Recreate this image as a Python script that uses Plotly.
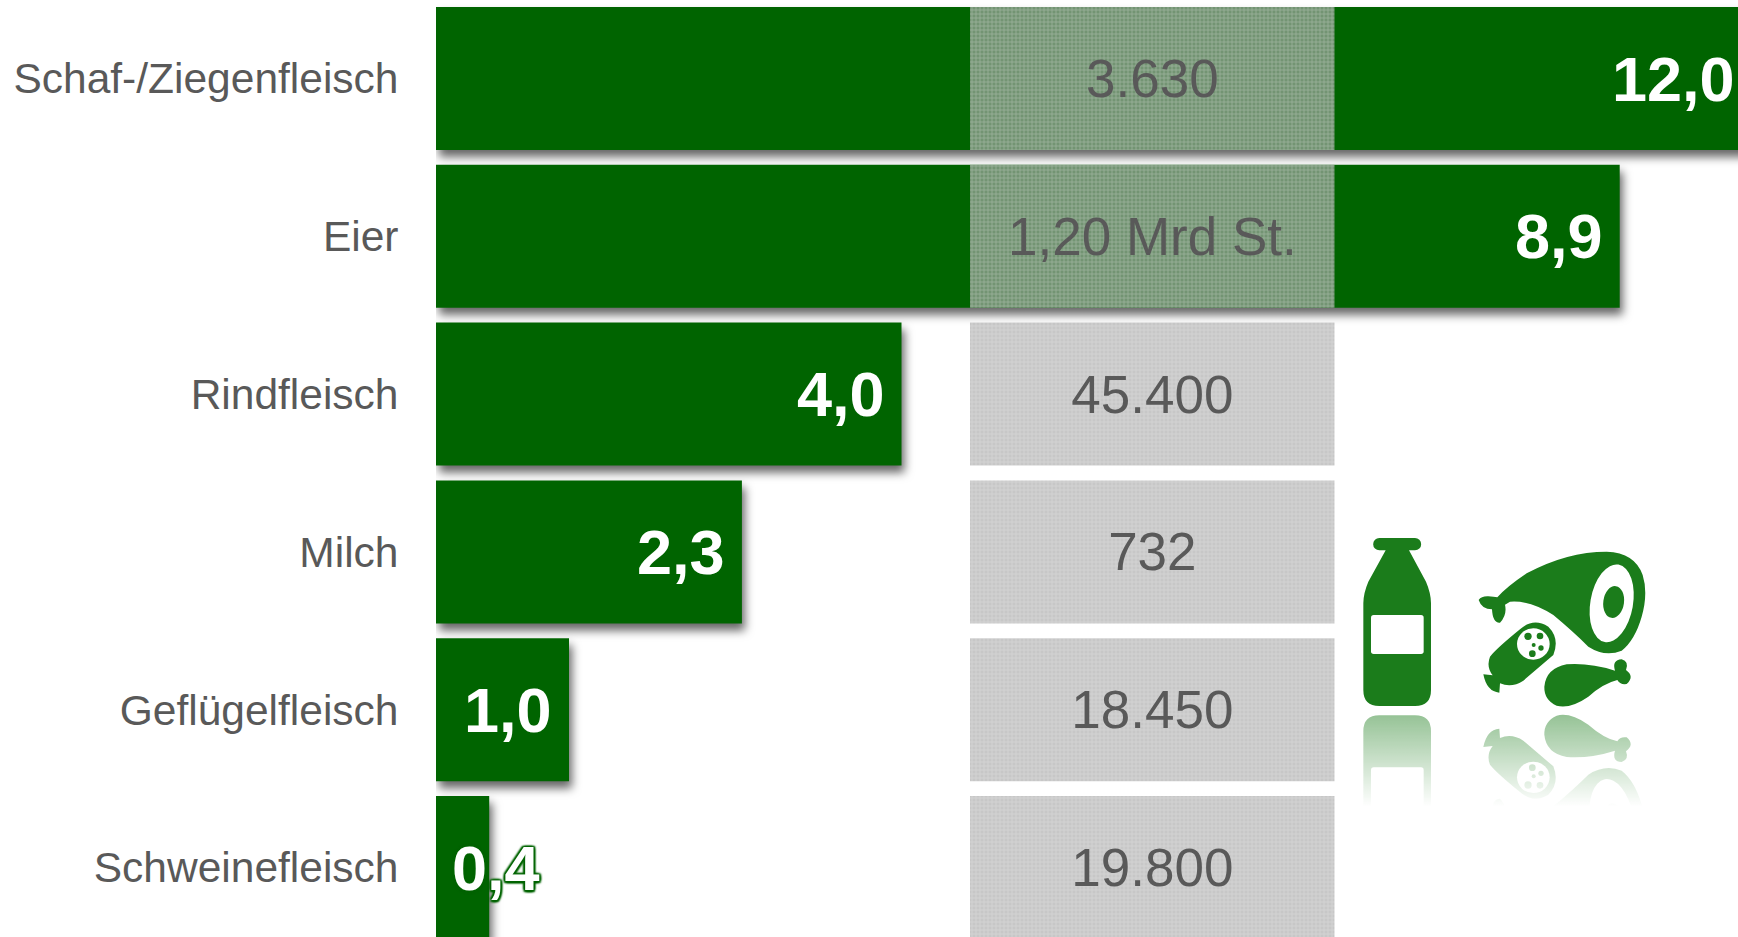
import base64
import plotly.graph_objects as go

categories = ["Schaf-/Ziegenfleisch", "Eier", "Rindfleisch", "Milch", "Geflügelfleisch", "Schweinefleisch"]
bar_lengths = [12.0, 8.9, 3.5, 2.3, 1.0, 0.4]
bar_labels = ["12,0", "8,9", "4,0", "2,3", "1,0", "0,4"]
label_shifts = [-1, -15, -15, -15, -15, 53]
quantities = ["3.630", "1,20 Mrd St.", "45.400", "732", "18.450", "19.800"]
box_widths = [1, 1, 1, 1, 1, 1]

W, H = 1738, 937
FONT = "Liberation Sans, Arial, sans-serif"
GREEN = "#006400"
TEXT = "#595959"
X_MAX = (W - 436) / 133
STEP = 157.8
FIRST = 78.5

icon_art = """
<path d="M118 54H225a18.500 18.500 0 0 1 0 37H207L258 185Q273 220 273 250V510Q273 558 225 558H118Q70 558 70 510V250Q70 220 85 185L137 91H118a18.500 18.500 0 0 1 0-37Z"/>
<rect x="93" y="285" width="158" height="117" rx="8" fill="#fff"/>
<path d="M416 240Q424 228 445 229Q462 231 472 232Q500 200 560 160Q680 95 800 95Q885 98 908 165Q925 220 905 290Q885 360 845 392Q795 412 745 380Q700 335 640 285Q570 240 510 245L495 254Q502 285 480 308Q458 310 456 268Q425 268 416 240Z"/>
<ellipse cx="815" cy="250" rx="64" ry="118" transform="rotate(10 815 250)" fill="#fff"/>
<ellipse cx="821" cy="246" rx="31" ry="48" transform="rotate(8 821 246)"/>
<path d="M450 410Q470 385 540 328Q580 292 625 320Q660 355 640 405L550 482Q515 505 480 490L478 518Q440 515 430 463L458 466Q438 440 450 410Z"/>
<ellipse cx="580" cy="372" rx="49" ry="47" fill="#fff"/>
<circle cx="564" cy="349" r="11"/><circle cx="600" cy="348" r="10"/><circle cx="581" cy="375" r="6"/><circle cx="603" cy="384" r="8"/><circle cx="577" cy="401" r="10"/>
<path d="M613 500Q618 445 680 433Q750 428 825 452Q815 420 845 418Q868 425 858 450Q885 470 860 492Q840 495 832 480Q790 490 745 530Q690 568 650 557Q612 540 613 500Z"/>
"""
svg = f"""<svg xmlns="http://www.w3.org/2000/svg" width="990" height="870" viewBox="0 0 990 870">
<defs><linearGradient id="g" gradientUnits="userSpaceOnUse" x1="0" y1="586" x2="0" y2="860">
<stop offset="0" stop-color="#fff" stop-opacity=".46"/><stop offset="1" stop-color="#fff" stop-opacity="0"/></linearGradient>
<mask id="m" maskUnits="userSpaceOnUse" x="0" y="572" width="990" height="298"><rect x="0" y="572" width="990" height="298" fill="url(#g)"/></mask></defs>
<g fill="#1b7c1b">{icon_art}</g>
<g mask="url(#m)"><g fill="#1b7c1b" transform="matrix(1 0 0 -1 0 1144)">{icon_art}</g></g>
</svg>"""
icon_uri = "data:image/svg+xml;base64," + base64.b64encode(svg.encode()).decode()

fig = go.Figure()
fig.add_bar(
    y=categories, x=bar_lengths, orientation="h", xaxis="x", yaxis="y",
    marker=dict(color=GREEN, line=dict(width=0)), hoverinfo="skip",
)
fig.add_bar(
    y=categories, x=box_widths, orientation="h", xaxis="x2", yaxis="y",
    text=quantities, textposition="inside", insidetextanchor="middle", constraintext="none",
    textangle=0, textfont=dict(family=FONT, size=53, color=TEXT),
    marker=dict(
        color="rgba(172,172,172,0.67)", line=dict(width=0),
        pattern=dict(shape="+", size=4, solidity=0.32, fgcolor="rgba(240,240,240,0.7)", bgcolor="rgba(172,172,172,0.67)"),
    ),
    hoverinfo="skip",
)

GLOW = ", ".join(f"{dx}px {dy}px 2px #006400" for dx, dy in [(1.5, 0), (-1.5, 0), (0, 1.5), (0, -1.5), (1.5, 1.5), (-1.5, 1.5), (1.5, -1.5), (-1.5, -1.5)])
annotations = [
    dict(
        x=min(v, X_MAX), y=c, xref="x", yref="y", text=f"<b>{t}</b>", showarrow=False,
        xanchor="right", xshift=s, yshift=0,
        font=dict(family=FONT, size=63, color="white", shadow=GLOW if v < 0.5 else "none"),
    )
    for c, v, t, s in zip(categories, bar_lengths, bar_labels, label_shifts)
]

fig.update_layout(
    width=W, height=H, margin=dict(l=0, r=0, t=0, b=0),
    paper_bgcolor="white", plot_bgcolor="rgba(0,0,0,0)", showlegend=False,
    barmode="overlay", bargap=(STEP - 143) / STEP,
    xaxis=dict(domain=[436 / W, 1], range=[0, X_MAX], visible=False, anchor="y"),
    xaxis2=dict(domain=[970 / W, 1334.7 / W], range=[0, 1], visible=False, anchor="y"),
    yaxis=dict(
        type="category", categoryorder="array", categoryarray=categories,
        range=[(H - FIRST) / STEP, -FIRST / STEP], domain=[0, 1], anchor="x",
        showgrid=False, zeroline=False, showline=False,
        ticks="outside", ticklen=28, tickcolor="rgba(0,0,0,0)",
        tickfont=dict(family=FONT, size=42.5, color=TEXT),
    ),
    annotations=annotations,
    images=[dict(
        source=icon_uri, xref="paper", yref="paper", x=1340 / W, y=1 - 520 / H,
        sizex=330 / W, sizey=290 / H, xanchor="left", yanchor="top", sizing="stretch", layer="above",
    )],
)

page_js = """
document.documentElement.style.overflow = 'hidden';
document.body.style.margin = '0';
document.querySelectorAll('.subplot.xy .bars .point path').forEach(function(p){
  p.style.filter = 'drop-shadow(3px 7px 5px rgba(0,0,0,0.6))';
});
"""
fig.write_html("out.html", post_script=page_js, config={"displayModeBar": False})
